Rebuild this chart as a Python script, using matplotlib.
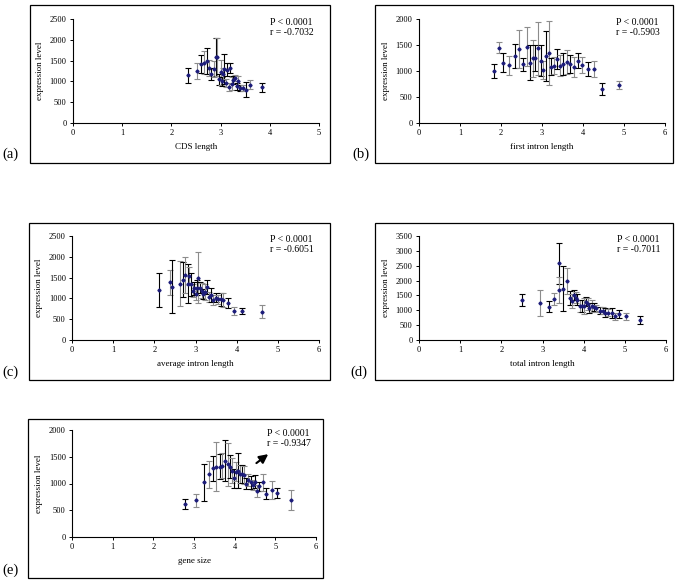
import matplotlib
matplotlib.use('Agg')
import matplotlib.pyplot as plt
from matplotlib.patches import Rectangle
import numpy as np

plt.rcParams['font.family'] = ['Liberation Serif', 'DejaVu Serif']

# (a) CDS length
a_x = [2.33, 2.52, 2.60, 2.67, 2.73, 2.77, 2.81, 2.86, 2.90, 2.93, 2.97, 3.00, 3.02, 3.05, 3.07,
       3.10, 3.13, 3.17, 3.19, 3.23, 3.26, 3.30, 3.33, 3.36, 3.40, 3.45, 3.52, 3.60, 3.84]
a_y = [1142, 1246, 1422, 1454, 1494, 1318, 1182, 1294, 1580, 1580, 1054, 1214, 998, 1182, 1294,
       958, 1278, 862, 1318, 942, 1038, 1078, 878, 1014, 838, 838, 798, 918, 862]
a_err = [190, 190, 212, 268, 312, 200, 140, 200, 452, 460, 130, 300, 104, 140, 368,
         88, 160, 88, 128, 160, 96, 80, 88, 120, 80, 80, 176, 112, 108]

# (b) first intron length
b_x = [1.82, 1.95, 2.06, 2.19, 2.33, 2.44, 2.54, 2.63, 2.71, 2.77, 2.84, 2.91, 2.97, 3.03, 3.10,
       3.16, 3.23, 3.29, 3.37, 3.45, 3.52, 3.60, 3.68, 3.78, 3.87, 3.98, 4.11, 4.27, 4.46, 4.88]
b_y = [1000, 1450, 1160, 1110, 1290, 1420, 1130, 1470, 1160, 1245, 1245, 1437, 1200, 1020, 1290,
       1340, 1085, 1100, 1226, 1105, 1130, 1175, 1130, 1085, 1195, 1110, 1040, 1040, 650, 735]
b_err = [128, 105, 185, 182, 230, 367, 121, 367, 335, 358, 246, 514, 303, 176, 479,
         617, 166, 166, 192, 208, 208, 224, 176, 192, 144, 153, 137, 160, 112, 80]

# (c) average intron length
c_x = [2.12, 2.38, 2.43, 2.62, 2.69, 2.75, 2.81, 2.85, 2.89, 2.93, 2.97, 3.01, 3.04, 3.07, 3.11,
       3.15, 3.19, 3.22, 3.27, 3.32, 3.37, 3.43, 3.49, 3.55, 3.61, 3.67, 3.79, 3.94, 4.14, 4.61]
c_y = [1198, 1390, 1278, 1358, 1454, 1558, 1358, 1534, 1342, 1182, 1238, 1102, 1262, 1502, 1262,
       1182, 1102, 1158, 1278, 1038, 1078, 958, 1014, 974, 974, 958, 878, 703, 695, 679]
c_err = [415, 300, 640, 535, 423, 427, 460, 220, 280, 160, 160, 140, 180, 620, 140,
         180, 112, 200, 176, 120, 160, 120, 112, 100, 152, 160, 120, 100, 68, 160]

# (d) total intron length
d_x = [2.50, 2.93, 3.15, 3.29, 3.40, 3.40, 3.49, 3.59, 3.66, 3.71, 3.76, 3.81, 3.85, 3.90, 3.95, 4.00,
       4.05, 4.10, 4.14, 4.20, 4.24, 4.29, 4.40, 4.47, 4.53, 4.59, 4.69, 4.77, 4.87, 5.03, 5.36]
d_y = [1349, 1237, 1126, 1371, 2575, 1683, 1727, 1984, 1426, 1315, 1516, 1426, 1349, 1148, 1148, 1148,
       1293, 1215, 1070, 1148, 1104, 1070, 981, 981, 925, 925, 903, 791, 869, 791, 680]
d_err = [190, 446, 184, 206, 690, 450, 758, 446, 234, 223, 156, 195, 184, 195, 195, 262,
         145, 212, 167, 195, 140, 112, 117, 117, 140, 112, 167, 123, 140, 112, 134]

# (e) gene size
e_x = [2.78, 3.06, 3.24, 3.37, 3.47, 3.55, 3.63, 3.70, 3.77, 3.83, 3.88, 3.94, 3.99, 4.04, 4.09,
       4.14, 4.19, 4.24, 4.29, 4.34, 4.39, 4.44, 4.50, 4.55, 4.61, 4.69, 4.78, 4.91, 5.05, 5.38]
e_y = [621, 683, 1019, 1174, 1286, 1317, 1317, 1329, 1429, 1360, 1317, 1236, 1099, 1224, 1236,
       1180, 1180, 1161, 994, 1068, 1019, 975, 1037, 863, 944, 1019, 807, 882, 820, 696]
e_err = [93, 124, 342, 252, 233, 460, 242, 233, 388, 404, 217, 233, 177, 186, 326,
         171, 171, 161, 102, 109, 118, 93, 124, 115, 93, 165, 102, 171, 93, 186]

panels = [
    # label, x, y, err, xlabel, xmax, ymax, r
    ('(a)', a_x, a_y, a_err, 'CDS length', 5, 2500, 'r = -0.7032'),
    ('(b)', b_x, b_y, b_err, 'first intron length', 6, 2000, 'r = -0.5903'),
    ('(c)', c_x, c_y, c_err, 'average intron length', 6, 2500, 'r = -0.6051'),
    ('(d)', d_x, d_y, d_err, 'total intron length', 6, 3500, 'r = -0.7011'),
    ('(e)', e_x, e_y, e_err, 'gene size', 6, 2000, 'r = -0.9347'),
]

# pixel layout: outer box, axes box, panel label position
W, H = 685, 587
boxes = [(30, 5, 330, 163), (375, 5, 673, 163), (29, 223, 330, 380),
         (375, 223, 673, 380), (28, 419, 323, 578)]
axboxes = [(73, 19, 319, 123), (419, 19, 665, 123), (72, 236, 319, 340),
           (419, 236, 666, 340), (72, 430, 316, 537)]
labpos = [(2, 161), (352, 161), (2, 379), (350, 379), (2, 577)]


def frac(b):
    x0, y0, x1, y1 = b
    return [x0 / W, 1 - y1 / H, (x1 - x0) / W, (y1 - y0) / H]


fig = plt.figure(figsize=(6.85, 5.87), dpi=100)

for i, (lab, x, y, err, xl, xmax, ymax, rtxt) in enumerate(panels):
    bx = frac(boxes[i])
    fig.patches.append(Rectangle((bx[0], bx[1]), bx[2], bx[3], transform=fig.transFigure,
                                 fill=False, edgecolor='black', linewidth=0.9))
    fig.text(labpos[i][0] / W, 1 - labpos[i][1] / H, lab, fontsize=10.5, ha='left', va='bottom')

    ax = fig.add_axes(frac(axboxes[i]))
    for j in range(len(x)):
        col = 'black' if j % 2 == 0 else '#8c8c8c'
        ax.errorbar(x[j], y[j], yerr=err[j], fmt='none', ecolor=col, elinewidth=0.8,
                    capsize=2.3, capthick=0.8)
    ax.plot(x, y, 'D', color='#1c1c7a', markersize=1.6, linestyle='none')

    ax.set_xlim(0, xmax)
    ax.set_ylim(0, ymax)
    ax.set_xticks(np.arange(0, xmax + 1, 1))
    ax.set_yticks(np.arange(0, ymax + 1, 500))
    for s in ['top', 'right']:
        ax.spines[s].set_visible(False)
    for s in ['left', 'bottom']:
        ax.spines[s].set_linewidth(0.8)
    ax.tick_params(axis='both', labelsize=6, length=2.5, width=0.7, direction='out', pad=2)
    ax.set_xlabel(xl, fontsize=6.5, labelpad=4)
    ax.set_ylabel('expression level', fontsize=6.5, labelpad=4)
    ax.text(0.80, 0.97, 'P < 0.0001', transform=ax.transAxes, fontsize=7, va='center')
    ax.text(0.80, 0.87, rtxt, transform=ax.transAxes, fontsize=7, va='center')

    if lab == '(e)':
        ax.annotate('', xy=(4.88, 1580), xytext=(4.48, 1350),
                    arrowprops=dict(arrowstyle='-|>', color='black', lw=1.5,
                                    mutation_scale=13))

fig.savefig('out.png', dpi=100)
